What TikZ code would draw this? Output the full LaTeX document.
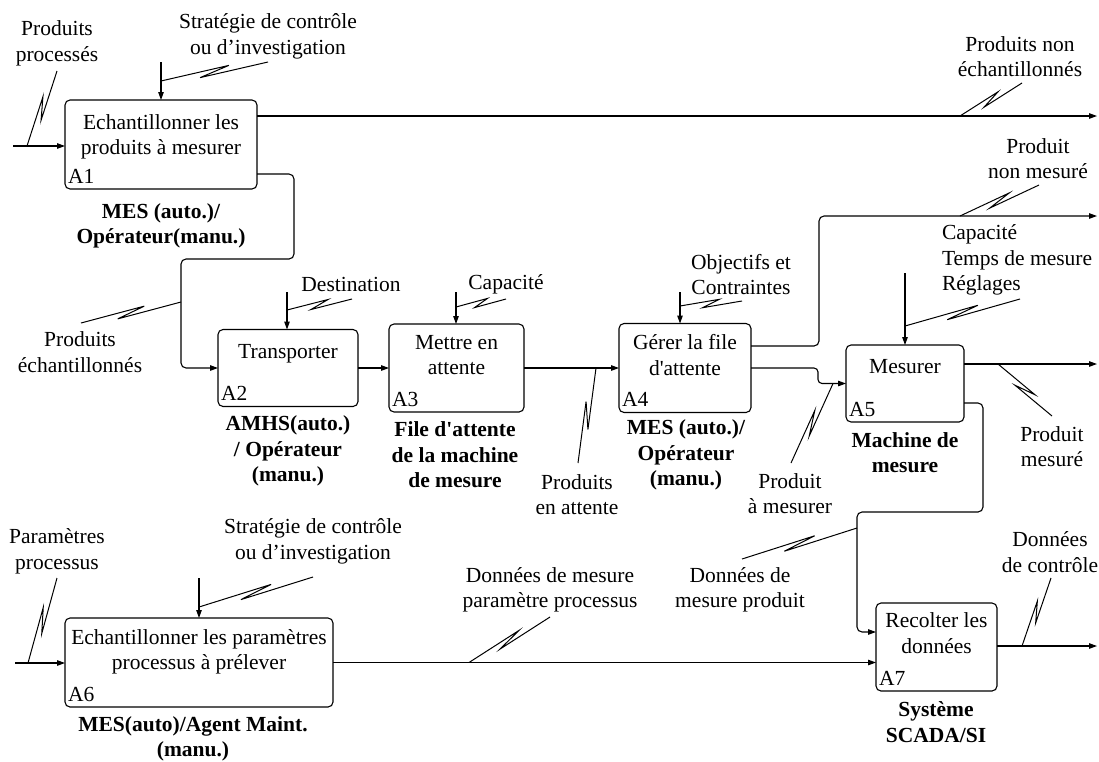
\documentclass[tikz,border=0pt]{standalone}
\usepackage{fontspec}
\setmainfont{Liberation Serif}
\usetikzlibrary{arrows.meta,calc}
% IDEF0 squiggle: a thin zigzag joining an arrow to its label
\newcommand\idefsquig[2]{%
  \draw[squigline] (#1) -- ($(#1)!0.64!(#2)!3.5pt!90:(#2)$)
    -- ($(#1)!0.36!(#2)!3.5pt!-90:(#2)$) -- (#2);}
\begin{document}
\begin{tikzpicture}[x=1pt,y=-1pt,
  every node/.style={inner sep=0pt,outer sep=0pt,font=\fontsize{21.5}{25.5}\selectfont},
  box/.style={draw,rounded corners=5pt,line width=1.1pt},
  lbl/.style={align=center},
  mech/.style={align=center,font=\fontsize{21.5}{25.5}\selectfont\bfseries},
  num/.style={anchor=base west},
  flow/.style={line width=1.1pt,-{Triangle[length=8pt,width=5.5pt]}},
  squigline/.style={line width=1pt,line join=miter}]
\useasboundingbox (0,0) rectangle (1099,761);

% activity boxes
\node[box,minimum width=192pt,minimum height=89pt] (a1) at (161,144.5) {};
\node[box,minimum width=140pt,minimum height=77pt] (a2) at (288,368) {};
\node[box,minimum width=135pt,minimum height=88pt] (a3) at (456.5,368) {};
\node[box,minimum width=132pt,minimum height=89pt] (a4) at (685,368) {};
\node[box,minimum width=118pt,minimum height=77pt] (a5) at (905,383.5) {};
\node[box,minimum width=268pt,minimum height=89pt] (a6) at (199,662.5) {};
\node[box,minimum width=121pt,minimum height=88pt] (a7) at (936.5,647) {};

% activity names
\node[lbl] (a1t) at (161,137) {Echantillonner les\\produits à mesurer};
\node[lbl] (a2t) at (288,354) {Transporter};
\node[lbl] (a3t) at (456.5,355) {Mettre en\\attente};
\node[lbl] (a4t) at (685,355) {Gérer la file\\d\textquotesingle attente};
\node[lbl] (a5t) at (905,367) {Mesurer};
\node[lbl] (a6t) at (199,652) {Echantillonner les paramètres\\processus à prélever};
\node[lbl] (a7t) at (936.5,633) {Recolter les\\données};

% activity numbers
\node[num] (a1n) at ($(a1.south west)+(3,-6)$) {A1};
\node[num] (a2n) at ($(a2.south west)+(3,-6)$) {A2};
\node[num] (a3n) at ($(a3.south west)+(3,-6)$) {A3};
\node[num] (a4n) at ($(a4.south west)+(3,-6)$) {A4};
\node[num] (a5n) at ($(a5.south west)+(3,-6)$) {A5};
\node[num] (a6n) at ($(a6.south west)+(3,-6)$) {A6};
\node[num] (a7n) at ($(a7.south west)+(3,-6)$) {A7};

% mechanisms
\node[mech] (m1) at (161,226) {MES (auto.)/\\Opérateur(manu.)};
\node[mech] (m2) at (288,451) {AMHS(auto.)\\/ Opérateur\\(manu.)};
\node[mech] (m3) at (455,455) {File d\textquotesingle attente\\de la machine\\de mesure};
\node[mech] (m4) at (686,455) {MES (auto.)/\\Opérateur\\(manu.)};
\node[mech] (m5) at (905,452.5) {Machine de\\mesure};
\node[mech] (m6) at (193,739) {MES(auto)/Agent Maint.\\(manu.)};
\node[mech] (m7) at (936,722) {Système\\SCADA/SI};

% arrow labels
\node[lbl] (l1) at (57,43.5) {Produits\\processés};
\node[lbl] (l2) at (268,36.5) {Stratégie de contrôle\\ou d’investigation};
\node[lbl] (l3) at (1020,56.5) {Produits non\\échantillonnés};
\node[lbl] (l4) at (1038,158.5) {Produit\\non mesuré};
\node[align=left,anchor=west] (l5) at (942,260) {Capacité\\Temps de mesure\\Réglages};
\node[lbl] (l6) at (741,274.5) {Objectifs et\\Contraintes};
\node[lbl] (l7) at (351,284) {Destination};
\node[lbl] (l8) at (506,284) {Capacité};
\node[lbl] (l9) at (80,352) {Produits\\échantillonnés};
\node[lbl] (l10) at (577,494.5) {Produits\\en attente};
\node[lbl] (l11) at (790,493.5) {Produit\\à mesurer};
\node[lbl] (l12) at (1052,446.5) {Produit\\mesuré};
\node[lbl] (l13) at (57,551.5) {Paramètres\\processus};
\node[lbl] (l14) at (313,541.5) {Stratégie de contrôle\\ou d’investigation};
\node[lbl] (l15) at (550,590) {Données de mesure\\paramètre processus};
\node[lbl] (l16) at (740,590) {Données de\\mesure produit};
\node[lbl] (l17) at (1050,552) {Données\\de contrôle};

% end points and bends of the flows
\coordinate (i1) at (13,146);
\coordinate (k1) at (161,62);
\coordinate (o1) at (1097,116);
\coordinate (b1) at (294,174);
\coordinate (k2) at (287,292);
\coordinate (k3) at (456,292);
\coordinate (k4) at (680,292);
\coordinate (b4) at (819,346);
\coordinate (o4) at (1097,216);
\coordinate (b5) at (818,368);
\coordinate (k5) at (905,273);
\coordinate (o5) at (1097,364);
\coordinate (b6) at (983,403);
\coordinate (e7) at (857,632);
\coordinate (i6) at (15,663);
\coordinate (k6) at (199,578);
\coordinate (o7) at (1097,646);

% flows
\draw[flow] (i1) -- (i1 -| a1.west);
\draw[flow] (k1) -- (k1 |- a1.north);
\draw[flow] (o1 -| a1.east) -- (o1);
\draw[flow,rounded corners=5pt] (b1 -| a1.east) -- (b1) -- (294,259) -- (181,259) -- (181,368) -- (a2.west);
\draw[flow] (k2) -- (k2 |- a2.north);
\draw[flow] (a2.east) -- (a3.west);
\draw[flow] (k3) -- (k3 |- a3.north);
\draw[flow] (a3.east) -- (a4.west);
\draw[flow] (k4) -- (k4 |- a4.north);
\draw[flow,rounded corners=5pt] (b4 -| a4.east) -- (b4) |- (o4);
\draw[flow,rounded corners=4pt] (b5 -| a4.east) -- (b5) -- (818,383.5) -- (a5.west);
\draw[flow] (k5) -- (a5.north);
\draw[flow] (o5 -| a5.east) -- (o5);
\draw[flow,rounded corners=5pt] (b6 -| a5.east) -- (b6) -- (983,512) -- (857,512) -- (e7) -- (e7 -| a7.west);
\draw[flow] (i6) -- (i6 -| a6.west);
\draw[flow] (k6) -- (a6.north);
\draw[flow] (a6.east) -- (a6.east -| a7.west);
\draw[flow] (o7 -| a7.east) -- (o7);

% squiggles: point on the flow, point near the label
\coordinate (s1p) at (27,146);   \coordinate (s1q) at (57,71);
\coordinate (s2p) at (161,81);   \coordinate (s2q) at (268,62);
\coordinate (s3p) at (960,116);  \coordinate (s3q) at (1022,83);
\coordinate (s4p) at (181,302);  \coordinate (s4q) at (81,323);
\coordinate (s5p) at (287,310);  \coordinate (s5q) at (352,299);
\coordinate (s6p) at (456,307);  \coordinate (s6q) at (506,299);
\coordinate (s7p) at (680,306);  \coordinate (s7q) at (742,301);
\coordinate (s8p) at (960,216);  \coordinate (s8q) at (1039,185);
\coordinate (s9p) at (905,326);  \coordinate (s9q) at (1020,299);
\coordinate (s10p) at (596,368); \coordinate (s10q) at (578,463);
\coordinate (s11p) at (833,383.5); \coordinate (s11q) at (791,463);
\coordinate (s12p) at (998,364); \coordinate (s12q) at (1052,416);
\coordinate (s13p) at (857,528); \coordinate (s13q) at (742,559);
\coordinate (s14p) at (28,663);  \coordinate (s14q) at (57,578);
\coordinate (s15p) at (199,607); \coordinate (s15q) at (313,577);
\coordinate (s16p) at (469,662.5); \coordinate (s16q) at (550,617);
\coordinate (s17p) at (1022,646); \coordinate (s17q) at (1051,578);
\idefsquig{s1p}{s1q}
\idefsquig{s2p}{s2q}
\idefsquig{s3p}{s3q}
\idefsquig{s4p}{s4q}
\idefsquig{s5p}{s5q}
\idefsquig{s6p}{s6q}
\idefsquig{s7p}{s7q}
\idefsquig{s8p}{s8q}
\idefsquig{s9p}{s9q}
\idefsquig{s10p}{s10q}
\idefsquig{s11p}{s11q}
\idefsquig{s12p}{s12q}
\idefsquig{s13p}{s13q}
\idefsquig{s14p}{s14q}
\idefsquig{s15p}{s15q}
\idefsquig{s16p}{s16q}
\idefsquig{s17p}{s17q}
\end{tikzpicture}
\end{document}
